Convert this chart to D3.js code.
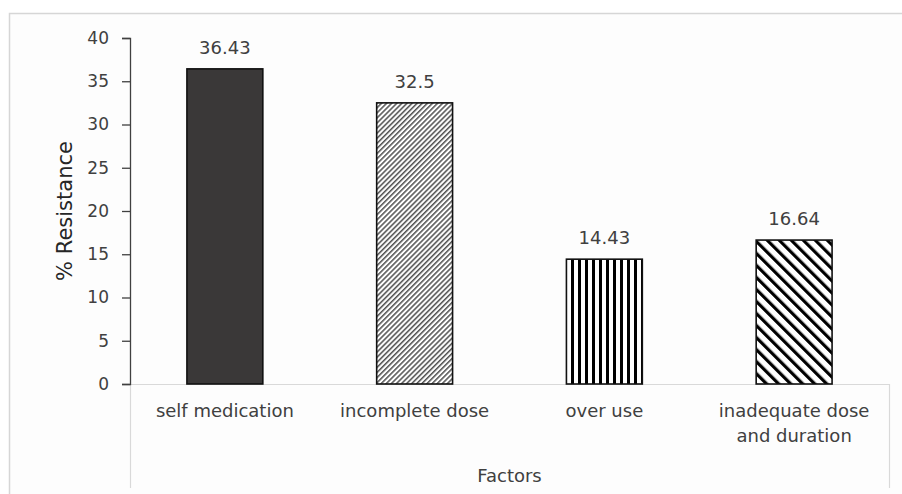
<!DOCTYPE html>
<html>
<head>
<meta charset="utf-8">
<script src="https://cdn.jsdelivr.net/npm/d3@7"></script>
<style>
  html, body { margin: 0; padding: 0; background: #fff; }
  svg { display: block; }
  text { font-family: "DejaVu Sans", "Open Sans", sans-serif; }
</style>
</head>
<body>
<svg id="chart" width="902" height="494"></svg>
<script>
const categories = ["self medication", "incomplete dose", "over use", "inadequate dose\nand duration"];
const values = [36.43, 32.5, 14.43, 16.64];
const valueLabels = ["36.43", "32.5", "14.43", "16.64"];
const yTicks = [0, 5, 10, 15, 20, 25, 30, 35, 40];
const fills = ["solid", "fine", "vert", "diag"];
const yTitle = "% Resistance";
const xTitle = "Factors";

const svg = d3.select("#chart");
const W = 902, H = 494;
const m = { left: 130, right: 13, top: 38, bottom: 110 };
const plotW = W - m.left - m.right;
const plotH = H - m.top - m.bottom;

// outer frame
svg.append("rect").attr("x", 9.5).attr("y", 13.5).attr("width", W).attr("height", H)
  .attr("fill", "#fdfdfd").attr("stroke", "#d6d6d6").attr("stroke-width", 1.5);

const defs = svg.append("defs");
const p1 = defs.append("pattern").attr("id", "fine").attr("patternUnits", "userSpaceOnUse")
  .attr("width", 3.6).attr("height", 3.6).attr("patternTransform", "rotate(45)");
p1.append("rect").attr("width", 3.6).attr("height", 3.6).attr("fill", "#fff");
p1.append("line").attr("x1", 0.8).attr("x2", 0.8).attr("y1", 0).attr("y2", 3.6)
  .attr("stroke", "#222").attr("stroke-width", 1.2);
const p2 = defs.append("pattern").attr("id", "vert").attr("patternUnits", "userSpaceOnUse")
  .attr("width", 7).attr("height", 7);
p2.append("rect").attr("width", 7).attr("height", 7).attr("fill", "#fff");
p2.append("rect").attr("x", 0).attr("width", 3).attr("height", 7).attr("fill", "#000");
const p3 = defs.append("pattern").attr("id", "diag").attr("patternUnits", "userSpaceOnUse")
  .attr("width", 8.5).attr("height", 8.5).attr("patternTransform", "rotate(-45)");
p3.append("rect").attr("width", 8.5).attr("height", 8.5).attr("fill", "#fff");
p3.append("rect").attr("x", 0).attr("width", 3.2).attr("height", 8.5).attr("fill", "#000");

const g = svg.append("g").attr("transform", `translate(${m.left},${m.top})`);

const x = d3.scaleBand().domain(categories).range([0, plotW]).paddingInner(0.6).paddingOuter(0.3);
const y = d3.scaleLinear().domain([0, 40]).range([plotH, 0]);

// category box lines
g.append("line").attr("x1", 0).attr("x2", plotW).attr("y1", plotH + 0.5).attr("y2", plotH + 0.5)
  .attr("stroke", "#d9d9d9").attr("stroke-width", 1.2);
[0, plotW].forEach(px => {
  g.append("line").attr("x1", px + 0.5).attr("x2", px + 0.5).attr("y1", plotH).attr("y2", plotH + 104)
    .attr("stroke", "#d9d9d9").attr("stroke-width", 1.2);
});

// bars
const data = categories.map((c, i) => ({ c, v: values[i], f: fills[i], l: valueLabels[i] }));
g.selectAll("rect.bar").data(data).enter().append("rect").attr("class", "bar")
  .attr("x", d => x(d.c)).attr("width", x.bandwidth())
  .attr("y", d => y(d.v)).attr("height", d => y(0) - y(d.v))
  .attr("fill", d => d.f === "solid" ? "#3a3838" : `url(#${d.f})`)
  .attr("stroke", "#111").attr("stroke-width", 1.6);

g.selectAll("text.val").data(data).enter().append("text").attr("class", "val")
  .attr("x", d => x(d.c) + x.bandwidth() / 2).attr("y", d => y(d.v) - 15)
  .attr("text-anchor", "middle").attr("font-size", 18).attr("fill", "#404040").text(d => d.l);

// y axis
const yAxis = d3.axisLeft(y).tickValues(yTicks).tickSize(8).tickPadding(13);
const ya = g.append("g").call(yAxis);
ya.select(".domain").attr("stroke", "#404040").attr("stroke-width", 1.3);
ya.selectAll(".tick line").attr("stroke", "#404040").attr("stroke-width", 1.3);
ya.selectAll(".tick text").attr("font-size", 17).attr("fill", "#404040")
  .attr("font-family", "\"DejaVu Sans\", sans-serif");

// category labels
const cl = g.selectAll("text.cat").data(data).enter().append("text").attr("class", "cat")
  .attr("x", d => x(d.c) + x.bandwidth() / 2).attr("y", plotH + 33)
  .attr("text-anchor", "middle").attr("font-size", 18).attr("fill", "#404040");
cl.each(function(d) {
  const lines = d.c.split("\n");
  const t = d3.select(this);
  lines.forEach((ln, i) => t.append("tspan").attr("x", x(d.c) + x.bandwidth() / 2)
    .attr("dy", i === 0 ? 0 : 25).text(ln));
});

// titles
g.append("text").attr("x", plotW / 2).attr("y", plotH + 98).attr("text-anchor", "middle")
  .attr("font-size", 18).attr("fill", "#404040").text(xTitle);
g.append("text").attr("transform", `translate(${-58},${plotH / 2}) rotate(-90)`)
  .attr("text-anchor", "middle").attr("font-size", 21).attr("fill", "#262626").text(yTitle);
</script>
</body>
</html>
